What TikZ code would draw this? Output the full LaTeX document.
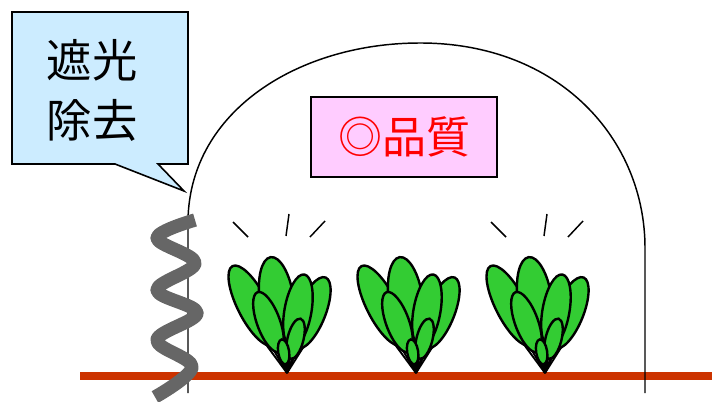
\documentclass[tikz,border=0pt]{standalone}
\usepackage{fontspec}
\newfontfamily\jpfont{Noto Sans CJK JP}

\definecolor{leafgreen}{HTML}{33CC33}
\definecolor{soil}{HTML}{CC3300}
\definecolor{vinegray}{HTML}{666666}
\definecolor{calloutblue}{HTML}{CCECFF}
\definecolor{qualitypink}{HTML}{FFCCFF}

% leaf: angle, length, width -- two stalk lines and an oval blade
\newcommand\leaf[3]{%
  \draw[stalk,rotate=#1] (0,0) -- ({-0.2*#3},{-0.3*#2}) (0,0) -- ({0.2*#3},{-0.3*#2});
  \path[leafpart,rotate=#1] (0,{-0.63*#2}) ellipse [x radius={0.5*#3}, y radius={0.37*#2}];}

\begin{document}
\begin{tikzpicture}[
		x=0.75pt, y=-0.75pt,
		leafpart/.style = {fill=leafgreen, draw=black, line width=1.8pt},
		stalk/.style = {draw=black, line width=1.4pt},
		shine/.style = {draw=black, line width=1.1pt},
		ground/.style = {draw=soil, line width=6pt},
		tunnel/.style = {draw=black, line width=1.1pt},
		vine/.style = {draw=vinegray, line width=10pt, line join=round},
		calloutbox/.style = {fill=calloutblue, draw=black, line width=1.2pt, line join=miter},
		qualitybox/.style = {
			draw=black, line width=1.2pt, fill=qualitypink,
			minimum width=139.5pt, minimum height=60pt, inner sep=0pt,
			text=red, font=\jpfont\fontsize{33}{36}\selectfont},
		shadelabel/.style = {align=center, font=\jpfont\fontsize{34}{45}\selectfont},
		pics/plant/.style = {code={
			\leaf{27}{120}{30}
			\leaf{-22}{103}{28}
			\leaf{8}{117}{34}
			\leaf{-10}{100}{27}
			\leaf{20}{86}{23}
			\leaf{-14}{56}{16}
			\leaf{9}{34}{11}
		}},
		pics/glint/.style = {code={
			\draw[shine] (-54,-151) -- (-39,-136);
			\draw[shine] (2,-159) -- (-1,-137);
			\draw[shine] (38,-152) -- (23,-136);
		}}]

	\useasboundingbox (0,0) rectangle (712,402);

	\draw[ground] (80,376) -- (712,376);
	\draw[tunnel] (188,393) -- (188,220)
		.. controls (190,110) and (300,43) .. (420,43)
		.. controls (560,43) and (645,140) .. (645,248) -- (645,393);

	\pic (plantA) at (287,373) {plant};
	\pic (plantB) at (416,373) {plant};
	\pic (plantC) at (545,373) {plant};
	\pic at (287,373) {glint};
	\pic at (545,373) {glint};

	\draw[vine] plot[smooth, tension=0.6] coordinates {
		(195,220) (157,238) (195,263) (157,290) (197,313) (157,340) (192,367) (155,397)};

	\path[calloutbox] (12,12) -- (188,12) -- (188,164) -- (158,164) -- (184,191)
		-- (115,164) -- (12,164) -- cycle;
	\node[shadelabel] (shade) at (92,90) {遮光\\除去};

	\node[qualitybox] (quality) at (404,137) {◎品質};
\end{tikzpicture}
\end{document}
